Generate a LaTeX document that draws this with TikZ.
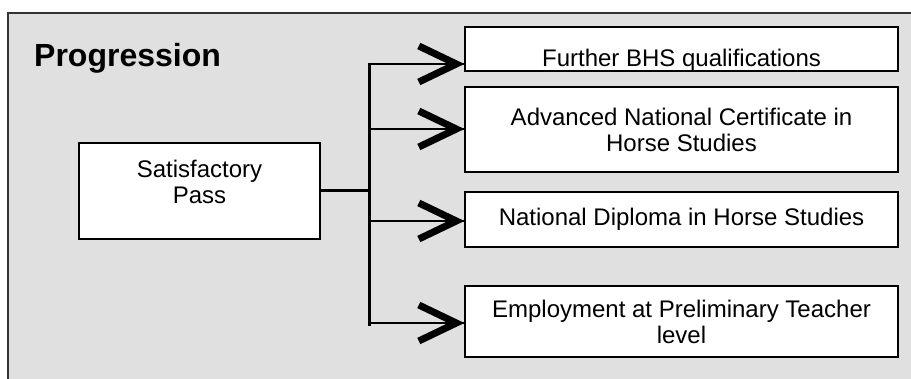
\documentclass[tikz,border=0pt]{standalone}
\usepackage{fontspec}
\setmainfont{Liberation Sans}
\definecolor{bggray}{HTML}{E0E0E0}
\definecolor{framegray}{HTML}{333333}
\tikzset{
  box/.style={draw=black, line width=2.4pt, fill=white, minimum width=433pt,
    inner sep=0pt, align=center, font=\fontsize{24}{26}\selectfont},
  trunk/.style={line width=3pt, line cap=butt},
  branch/.style={line width=2.4pt},
  chev/.style={line width=7pt, line cap=butt, line join=miter},
  chevron/.pic={\draw[chev] (-45,-18) -- (-7.5,0) -- (-45,18);}
}
\begin{document}
\begin{tikzpicture}[x=1pt,y=-1pt]
\useasboundingbox (0,0) rectangle (911,379);
\fill[bggray] (8,13) rectangle (911,379);
\draw[line width=1.8pt, draw=framegray] (8,379) -- (8,13) -- (911,13);

\node[anchor=base west, inner sep=0pt, font=\fontsize{32}{32}\selectfont\bfseries] (title) at (34,67) {Progression};

% source box
\node[box, minimum width=241pt, minimum height=96pt, line width=2.8pt] (sat) at (199.5,191) {};
\node[align=center, inner sep=0pt, font=\fontsize{24}{26.7}\selectfont] (sattext) at (199.5,182) {Satisfactory\\Pass};

% target boxes
\node[box, minimum height=44pt] (b1) at (681.5,49) {};
\begin{scope}
  \clip (466,28) rectangle (897,70);
  \node[anchor=base, inner sep=0pt, font=\fontsize{24}{26}\selectfont] (b1text) at (681.5,67) {Further BHS qualifications};
\end{scope}
\node[box, minimum height=85pt] (b2) at (681.5,129.5) {Advanced National Certificate in\\Horse Studies};
\node[box, minimum height=55pt] (b3) at (681.5,219.5) {National Diploma in Horse Studies};
\node[box, minimum height=71pt] (b4) at (681.5,321.5) {Employment at Preliminary Teacher\\level};

% trunk
\coordinate (j1) at (369,64);
\coordinate (j2) at (369,129);
\coordinate (j3) at (369,221);
\coordinate (j4) at (369,323);
\coordinate (ttop) at (369,62.8);
\coordinate (tbot) at (369,326);
\draw[trunk] (ttop) -- (tbot);
\draw[trunk] (sat.east) -- (sat.east -| ttop);

% branches with chevrons
\draw[branch] (j1) -- (j1 -| b1.west);
\draw[branch] (j2) -- (j2 -| b2.west);
\draw[branch] (j3) -- (j3 -| b3.west);
\draw[branch] (j4) -- (j4 -| b4.west);
\pic at (j1 -| b1.west) {chevron};
\pic at (j2 -| b2.west) {chevron};
\pic at (j3 -| b3.west) {chevron};
\pic at (j4 -| b4.west) {chevron};
\end{tikzpicture}
\end{document}
